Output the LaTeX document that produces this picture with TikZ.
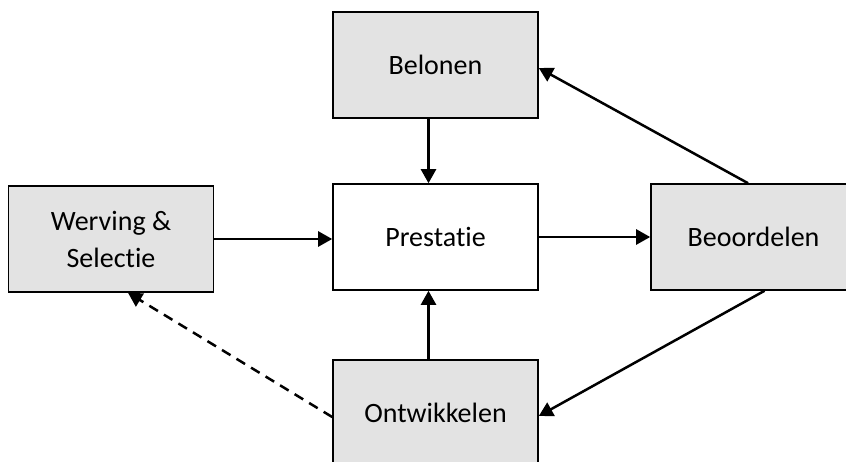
\documentclass[tikz,border=0pt]{standalone}
\usepackage{fontspec}
\setmainfont[Ligatures=NoCommon]{Carlito}
\usetikzlibrary{arrows.meta}
\definecolor{boxgray}{RGB}{227,227,227}

\begin{document}
\begin{tikzpicture}[x=1pt, y=-1pt,
  blok/.style={draw, line width=1.6pt, minimum width=205pt, minimum height=106pt,
    inner sep=0pt, align=center, font=\fontsize{28}{37}\selectfont},
  grijs/.style={blok, fill=boxgray},
  pijl/.style={line width=2.5pt, -{Triangle[length=14pt,width=15pt]}}]
\useasboundingbox (0,0) rectangle (846,461);
\clip (0,0) rectangle (846,461);

% blokken
\node[grijs] (belonen) at (435.5,65) {Belonen};
\node[blok, fill=white] (prestatie) at (435.5,237) {Prestatie};
\node[grijs] (werving) at (111,239) {Werving \&\\Selectie};
\node[grijs] (beoordelen) at (753.5,237) {Beoordelen};
\node[grijs] (ontwikkelen) at (435.5,413) {Ontwikkelen};

% pijlen
\draw[pijl] ([xshift=-7pt]belonen.south) -- ([xshift=-7pt]prestatie.north);
\draw[pijl] (werving.east) -- (werving.east -| prestatie.west);
\draw[pijl] (prestatie.east) -- (beoordelen.west);
\draw[pijl] ([xshift=-5.5pt]beoordelen.north) -- ([yshift=-3pt]belonen.east);
\draw[pijl] ([xshift=11pt]beoordelen.south) -- ([yshift=-3pt]ontwikkelen.east);
\draw[pijl] ([xshift=-7pt]ontwikkelen.north) -- ([xshift=-7pt]prestatie.south);
\draw[pijl, dash pattern=on 10pt off 7pt] ([yshift=-4pt]ontwikkelen.west) -- ([xshift=17pt]werving.south);
\end{tikzpicture}
\end{document}
